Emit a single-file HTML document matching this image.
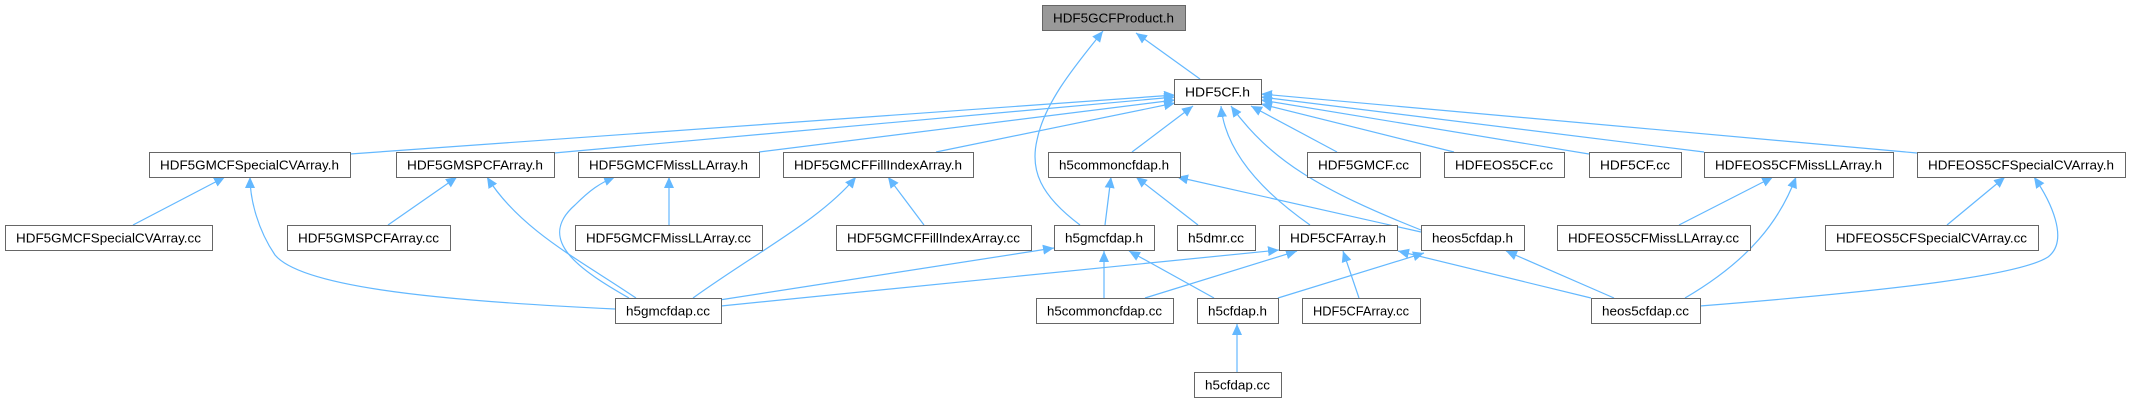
<!DOCTYPE html>
<html><head><meta charset="utf-8"><style>
html,body{margin:0;padding:0;background:#fff;}
svg{display:block;}
text{font-family:"Liberation Sans",Arial,sans-serif;font-size:13px;fill:#000;}
</style></head><body>
<svg id="g" xmlns="http://www.w3.org/2000/svg" width="2131" height="403" viewBox="0 0 2131 403">
<defs><marker id="a" markerUnits="userSpaceOnUse" markerWidth="12" markerHeight="10" refX="11" refY="5" orient="auto"><path d="M0,0 L11,5 L0,10 Z" fill="#63b8ff"/></marker></defs>
<g id="e" fill="none" stroke="#63b8ff" stroke-width="1.2"></g>
<g id="n"></g>
</svg>
<script>
var R=[5,152,225,298,372];
var N=[
["HDF5GCFProduct.h",1042,5,1185,1],
["HDF5CF.h",1174,79,1261],
["HDF5GMCFSpecialCVArray.h",149,152,350],
["HDF5GMSPCFArray.h",396,152,554],
["HDF5GMCFMissLLArray.h",578,152,759],
["HDF5GMCFFillIndexArray.h",783,152,973],
["h5commoncfdap.h",1048,152,1180],
["HDF5GMCF.cc",1307,152,1420],
["HDFEOS5CF.cc",1444,152,1564],
["HDF5CF.cc",1589,152,1681],
["HDFEOS5CFMissLLArray.h",1704,152,1893],
["HDFEOS5CFSpecialCVArray.h",1917,152,2125],
["HDF5GMCFSpecialCVArray.cc",5,225,212],
["HDF5GMSPCFArray.cc",287,225,450],
["HDF5GMCFMissLLArray.cc",575,225,762],
["HDF5GMCFFillIndexArray.cc",836,225,1031],
["h5gmcfdap.h",1054,225,1154],
["h5dmr.cc",1177,225,1255],
["HDF5CFArray.h",1279,225,1397],
["heos5cfdap.h",1421,225,1524],
["HDFEOS5CFMissLLArray.cc",1557,225,1750],
["HDFEOS5CFSpecialCVArray.cc",1825,225,2038],
["h5gmcfdap.cc",615,298,721],
["h5commoncfdap.cc",1036,298,1173],
["h5cfdap.h",1197,298,1278],
["HDF5CFArray.cc",1302,298,1420],
["heos5cfdap.cc",1591,298,1700],
["h5cfdap.cc",1194,372,1281]
];
var E=[
"M1200,79 L1136,33","M1080,225 C1040,195 1030,170 1037,140 C1045,100 1080,60 1103,31",
"M350,154 L1175,95","M554,153 L1175,97","M759,152 L1175,100","M936,152 L1175,103",
"M1132,152 L1193,106","M1310,225 C1260,190 1225,150 1221,106","M1421,230 C1320,190 1270,160 1231,106",
"M1337,152 L1251,106","M1454,152 L1261,104","M1589,154 L1261,100","M1704,152 L1261,97","M1917,153 L1261,94",
"M133,225 L225,177","M615,309 C420,300 300,285 275,255 C258,230 250,200 250,177",
"M388,225 L457,177","M636,298 C580,260 520,230 487,177",
"M669,225 L669,177","M629,298 C580,270 535,240 575,205 C590,190 600,183 615,177",
"M924,225 L888,177","M693,298 C760,250 820,220 856,177",
"M1105,225 L1111,177","M1198,225 L1136,177","M1421,232 L1177,177",
"M1679,225 L1773,177","M1685,298 C1750,260 1780,220 1796,177",
"M1947,225 L2005,177","M1700,306 C1900,290 2020,275 2048,257 C2070,240 2050,200 2034,177",
"M700,303 L1054,248","M721,306 L1279,250","M1104,298 L1104,251","M1145,298 L1297,251",
"M1214,298 L1129,251","M1278,298 L1424,253","M1359,298 L1343,251","M1591,298 L1398,251","M1614,298 L1506,251",
"M1237,372 L1237,324"
];
var ns="http://www.w3.org/2000/svg",ge=document.getElementById("e"),gn=document.getElementById("n");
E.forEach(function(d){var p=document.createElementNS(ns,"path");p.setAttribute("d",d);p.setAttribute("marker-end","url(#a)");ge.appendChild(p);});
N.forEach(function(n){var r=document.createElementNS(ns,"rect");var x=n[1],y=n[2],w=n[3]-n[1];
r.setAttribute("x",x+0.5);r.setAttribute("y",y+0.5);r.setAttribute("width",w);r.setAttribute("height",25);
r.setAttribute("fill",n[4]?"#999999":"#ffffff");r.setAttribute("stroke","#666666");r.setAttribute("stroke-width","1");gn.appendChild(r);
var t=document.createElementNS(ns,"text");t.setAttribute("x",x+w/2);t.setAttribute("y",y+17.5);t.setAttribute("text-anchor","middle");
t.setAttribute("textLength",w-22);t.setAttribute("lengthAdjust","spacingAndGlyphs");t.textContent=n[0];gn.appendChild(t);});
</script>
</body></html>
